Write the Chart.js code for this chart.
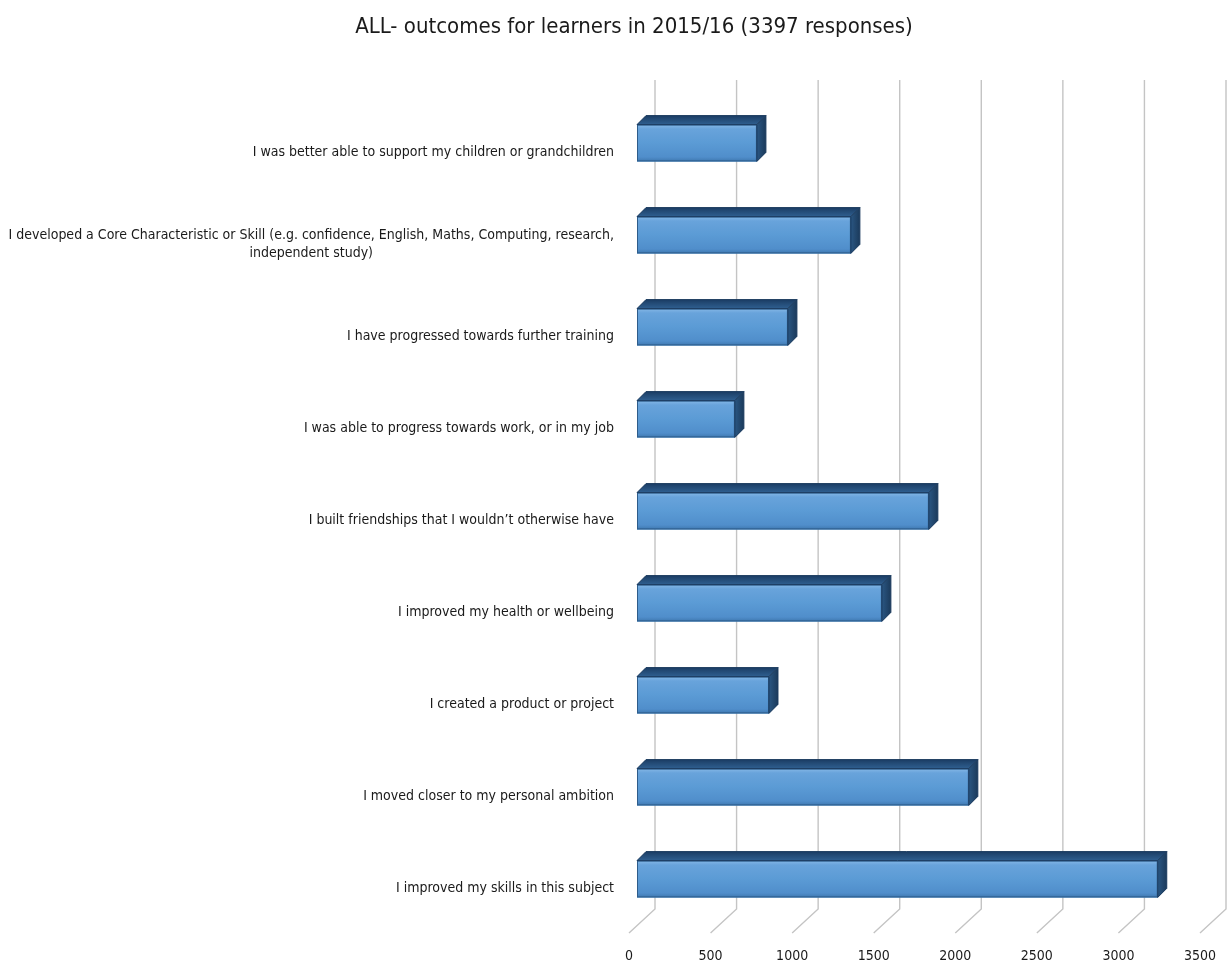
<!DOCTYPE html>
<html>
<head>
<meta charset="utf-8">
<title>ALL- outcomes for learners in 2015/16</title>
<script src="https://cdn.jsdelivr.net/npm/chart.js@4/dist/chart.umd.min.js"></script>
<style>
  html, body { margin: 0; padding: 0; background: #fff; }
  #wrap { width: 1231px; height: 963px; }
</style>
</head>
<body>
<div id="wrap"><canvas id="chart"></canvas></div>
<script>
const FONT = '"Liberation Sans Narrow", "DejaVu Sans Condensed", "Arial Narrow", sans-serif';

const chartTitle = 'ALL- outcomes for learners in 2015/16 (3397 responses)';
const categories = [
    'I was better able to support my children or grandchildren',
    ['I developed a Core Characteristic or Skill (e.g. confidence, English, Maths, Computing, research,', 'independent study)'],
    'I have progressed towards further training',
    'I was able to progress towards work, or in my job',
    'I built friendships that I wouldn\u2019t otherwise have',
    'I improved my health or wellbeing',
    'I created a product or project',
    'I moved closer to my personal ambition',
    'I improved my skills in this subject'
];
const responses = [735, 1311, 925, 600, 1789, 1501, 809, 2034, 3192];
const xMax = 3500;
const xStep = 500;

const DEPTH = 9;      // bar depth offset
const WALL_DX = 18;   // back wall offset from bar plane
const FLOOR_DX = -8;  // front floor edge offset

// 3D look: back wall gridlines, bar tops and sides, text
const box3d = {
    id: 'box3d',
    beforeDatasetsDraw(chart) {
        const { ctx, chartArea: a, scales: { x } } = chart;
        const top = a.top - 17, back = a.bottom - 16, front = a.bottom + 8;
        ctx.save();
        ctx.strokeStyle = '#c4c4c4';
        ctx.lineWidth = 1.4;
        x.ticks.forEach(t => {
            const px = x.getPixelForValue(t.value);
            ctx.beginPath();
            ctx.moveTo(px + WALL_DX, top);
            ctx.lineTo(px + WALL_DX, back);
            ctx.lineTo(px + FLOOR_DX, front);
            ctx.stroke();
        });
        ctx.restore();
    },
    afterDatasetsDraw(chart) {
        const { ctx } = chart;
        ctx.save();
        chart.getDatasetMeta(0).data.forEach(bar => {
            const { x, y, base, height } = bar.getProps(['x', 'y', 'base', 'height'], true);
            const t = y - height / 2, b = y + height / 2;

            // front face
            let g = ctx.createLinearGradient(0, t, 0, b);
            g.addColorStop(0, '#86b8e6');
            g.addColorStop(0.12, '#68a3db');
            g.addColorStop(0.5, '#5b9bd5');
            g.addColorStop(0.88, '#508ecb');
            g.addColorStop(1, '#3f78b0');
            ctx.fillStyle = g;
            ctx.fillRect(base, t, x - base, height);
            ctx.strokeStyle = '#2e5c8a';
            ctx.lineWidth = 1;
            ctx.strokeRect(base + 0.5, t + 0.5, x - base - 1, height - 1);

            // top face
            g = ctx.createLinearGradient(0, t - DEPTH, 0, t);
            g.addColorStop(0, '#1b3d64');
            g.addColorStop(1, '#2f5f90');
            ctx.fillStyle = g;
            ctx.beginPath();
            ctx.moveTo(base, t);
            ctx.lineTo(x, t);
            ctx.lineTo(x + DEPTH, t - DEPTH);
            ctx.lineTo(base + DEPTH, t - DEPTH);
            ctx.closePath();
            ctx.fill();
            ctx.strokeStyle = '#1a3a5e';
            ctx.stroke();

            // side face
            g = ctx.createLinearGradient(x, 0, x + DEPTH, 0);
            g.addColorStop(0, '#2a5682');
            g.addColorStop(1, '#1b3a5b');
            ctx.fillStyle = g;
            ctx.beginPath();
            ctx.moveTo(x, t);
            ctx.lineTo(x + DEPTH, t - DEPTH);
            ctx.lineTo(x + DEPTH, b - DEPTH);
            ctx.lineTo(x, b);
            ctx.closePath();
            ctx.fill();
            ctx.stroke();
        });
        ctx.restore();
    },
    afterDraw(chart) {
        const { ctx, chartArea: a, scales: { x, y } } = chart;
        ctx.save();
        ctx.fillStyle = '#1a1a1a';
        ctx.textBaseline = 'middle';
        ctx.textAlign = 'center';

        // title
        ctx.font = `22px ${FONT}`;
        ctx.fillText(chartTitle, 634, 27);

        // category labels, block right-aligned, lines centred
        ctx.font = `14px ${FONT}`;
        const right = a.left - 23;
        categories.forEach((lab, i) => {
            const lines = [].concat(lab);
            const cy = y.getPixelForValue(i) + 9;
            const w = Math.max(...lines.map(l => ctx.measureText(l).width));
            lines.forEach((l, j) => {
                ctx.fillText(l, right - w / 2, cy + (j - (lines.length - 1) / 2) * 18);
            });
        });

        // value ticks on the front floor edge
        x.ticks.forEach(t => {
            ctx.fillText(String(t.value), x.getPixelForValue(t.value) + FLOOR_DX, a.bottom + 31);
        });
        ctx.restore();
    }
};

new Chart(document.getElementById('chart'), {
    type: 'bar',
    data: {
        labels: categories,
        datasets: [{
            label: 'Responses',
            data: responses,
            backgroundColor: '#5b9bd5',
            borderWidth: 0,
            barPercentage: 0.4,
            categoryPercentage: 1
        }]
    },
    options: {
        indexAxis: 'y',
        responsive: true,
        maintainAspectRatio: false,
        animation: false,
        layout: { padding: { left: 637, right: 23, top: 97, bottom: 38 } },
        plugins: {
            legend: { display: false },
            tooltip: { enabled: false },
            title: { display: false }
        },
        scales: {
            x: {
                min: 0,
                max: xMax,
                ticks: { stepSize: xStep, display: false },
                grid: { display: false, drawTicks: false },
                border: { display: false }
            },
            y: {
                display: false
            }
        }
    },
    plugins: [box3d]
});
</script>
</body>
</html>
